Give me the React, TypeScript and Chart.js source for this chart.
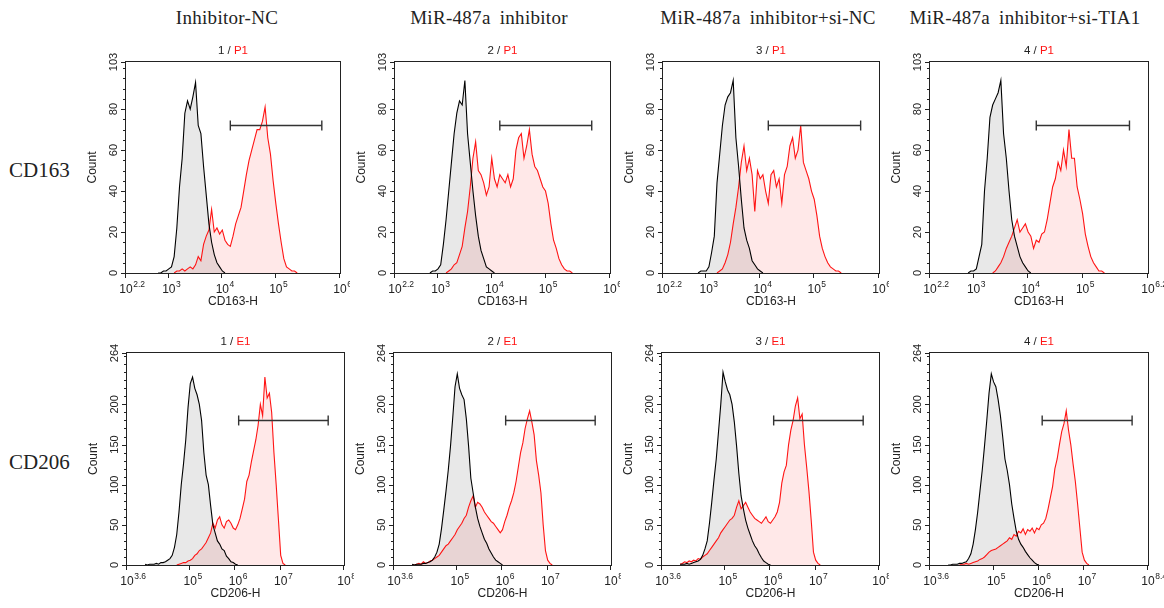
import React, { useEffect, useRef } from "react";
import { Chart, registerables } from "chart.js";

Chart.register(...registerables);

const _ = null;

// ---------- text ----------
const COLUMN_TITLES = ["Inhibitor-NC", "MiR-487a inhibitor", "MiR-487a inhibitor+si-NC", "MiR-487a inhibitor+si-TIA1"];
const ROW_TITLES = ["CD163", "CD206"];
const SAMPLE_IDS = ["1", "2", "3", "4"];
const GATE_NAMES = ["P1", "E1"];
const X_TITLES = ["CD163-H", "CD206-H"];

// ---------- bins (log10 of fluorescence) ----------
const CD163_BINS = [2.80, 2.85, 2.90, 2.95, 3.00, 3.05, 3.10, 3.15, 3.20, 3.25, 3.30, 3.35, 3.40, 3.45, 3.50, 3.55, 3.60, 3.65, 3.70, 3.75, 3.80, 3.85, 3.90, 3.95, 4.00, 4.05, 4.10, 4.15, 4.20, 4.25, 4.30, 4.35, 4.40, 4.45, 4.50, 4.55, 4.60, 4.65, 4.70, 4.75, 4.80, 4.85, 4.90, 4.95, 5.00, 5.05, 5.10, 5.15, 5.20, 5.25, 5.30, 5.35, 5.40, 5.45, 5.50];
const CD206_BINS = [4.00, 4.05, 4.10, 4.15, 4.20, 4.25, 4.30, 4.35, 4.40, 4.45, 4.50, 4.55, 4.60, 4.65, 4.70, 4.75, 4.80, 4.85, 4.90, 4.95, 5.00, 5.05, 5.10, 5.15, 5.20, 5.25, 5.30, 5.35, 5.40, 5.45, 5.50, 5.55, 5.60, 5.65, 5.70, 5.75, 5.80, 5.85, 5.90, 5.95, 6.00, 6.05, 6.10, 6.15, 6.20, 6.25, 6.30, 6.35, 6.40, 6.45, 6.50, 6.55, 6.60, 6.65, 6.70, 6.75, 6.80, 6.85, 6.90, 6.95, 7.00, 7.05, 7.10, 7.15];

// ---------- axes ----------
const CD163_X_TICKS = [2.2, 3, 4, 5, 6.2];
const CD206_X_TICKS = [3.6, 5, 6, 7, 8.4];
const CD163_Y_TICKS = [0, 20, 40, 60, 80, 103];
const CD206_Y_TICKS = [0, 50, 100, 150, 200, 264];
const CD163_Y_MINOR = 5;
const CD206_Y_MINOR = 10;

// ---------- gates ----------
const CD163_GATE = [4.15, 5.86];
const CD163_GATE_Y = 72;
const CD206_GATE = [6.07, 8.05];
const CD206_GATE_Y = 180;

// ---------- CD163 counts (black = control, red = stained) ----------
const CD163_CTRL_1 = [0, 0, 1, 1, 2, 3, 8, 22, 42, 56, 78, 84, 80, 86, 93, 72, 68, 52, 38, 24, 15, 9, 5, 3, 1, 0];
const CD163_STAIN_1 = [_, _, _, _, _, _, 0, 1, 1, 2, 1, 2, 3, 2, 4, 8, 6, 14, 18, 21, 31, 20, 22, 19, 21, 16, 14, 13, 18, 24, 28, 32, 40, 48, 55, 60, 65, 70, 70, 74, 81, 66, 58, 45, 34, 24, 15, 7, 3, 2, 1, 1, 0];
const CD163_CTRL_2 = [_, 0, 1, 1, 2, 4, 14, 26, 40, 54, 68, 78, 84, 82, 94, 68, 54, 40, 28, 18, 11, 7, 3, 2, 1, 0];
const CD163_STAIN_2 = [_, _, _, _, _, _, _, 0, 1, 2, 4, 5, 9, 13, 22, 30, 42, 56, 64, 50, 48, 44, 38, 42, 56, 46, 42, 48, 46, 44, 48, 42, 46, 60, 66, 68, 56, 62, 70, 58, 52, 50, 46, 42, 40, 34, 24, 16, 12, 7, 4, 2, 1, 1, 0];
const CD163_CTRL_3 = [_, 0, 1, 1, 1, 3, 10, 18, 44, 58, 72, 82, 86, 88, 94, 66, 52, 36, 22, 16, 12, 6, 4, 2, 1, 0];
const CD163_STAIN_3 = [_, _, _, _, _, _, _, _, 0, 1, 2, 5, 9, 15, 24, 32, 42, 54, 62, 50, 56, 48, 30, 50, 46, 48, 40, 34, 48, 50, 42, 46, 34, 48, 52, 62, 66, 56, 60, 72, 54, 50, 46, 40, 36, 28, 18, 12, 8, 5, 3, 2, 1, 1, 0];
const CD163_CTRL_4 = [_, _, 0, 1, 1, 2, 8, 14, 40, 56, 76, 82, 85, 88, 94, 68, 56, 40, 26, 18, 13, 8, 5, 3, 1, 0];
const CD163_STAIN_4 = [_, _, _, _, _, _, _, _, _, _, _, 0, 1, 3, 5, 8, 12, 15, 18, 22, 26, 20, 22, 24, 20, 18, 12, 16, 15, 19, 20, 26, 34, 42, 46, 54, 50, 60, 52, 70, 56, 56, 42, 36, 29, 19, 13, 8, 5, 3, 1, 1, 0];

// ---------- CD206 counts ----------
const CD206_CTRL_1 = [1, 0, 1, 1, 1, 2, 1, 3, 3, 4, 6, 8, 12, 22, 38, 66, 100, 126, 156, 196, 226, 234, 220, 212, 200, 180, 140, 112, 100, 74, 50, 40, 30, 26, 20, 18, 11, 8, 4, 3, 1, 0];
const CD206_STAIN_1 = [_, _, _, _, _, _, _, _, _, _, _, _, _, _, 0, 1, 2, 3, 3, 5, 6, 8, 12, 14, 18, 20, 24, 28, 34, 40, 52, 46, 56, 60, 50, 46, 54, 56, 52, 46, 44, 50, 58, 70, 82, 104, 112, 128, 142, 156, 174, 200, 186, 234, 208, 214, 190, 140, 100, 56, 12, 2, 0];
const CD206_CTRL_2 = [1, 0, 1, 1, 1, 2, 2, 3, 4, 6, 10, 16, 26, 45, 68, 92, 118, 148, 184, 222, 238, 220, 212, 206, 182, 148, 108, 90, 72, 58, 48, 40, 32, 27, 20, 15, 10, 6, 4, 2, 0];
const CD206_STAIN_2 = [0, 0, 1, 2, 1, 4, 2, 3, 5, 6, 8, 10, 12, 16, 20, 24, 26, 30, 34, 38, 44, 48, 52, 58, 62, 72, 80, 86, 72, 78, 76, 72, 66, 62, 58, 54, 52, 48, 44, 40, 44, 54, 62, 72, 80, 90, 104, 122, 140, 152, 170, 182, 192, 178, 162, 130, 112, 90, 50, 18, 6, 2, 0];
const CD206_CTRL_3 = [1, 1, 1, 2, 1, 2, 3, 4, 5, 7, 12, 20, 30, 52, 78, 106, 132, 166, 200, 240, 228, 218, 212, 200, 178, 148, 114, 86, 70, 56, 46, 38, 30, 24, 20, 14, 9, 5, 3, 1, 0];
const CD206_STAIN_3 = [1, 2, 4, 3, 5, 4, 6, 5, 8, 7, 10, 12, 14, 18, 22, 26, 30, 34, 40, 44, 48, 52, 56, 58, 62, 72, 80, 70, 74, 78, 72, 66, 62, 58, 56, 54, 52, 56, 60, 54, 52, 56, 60, 66, 78, 102, 116, 124, 150, 168, 180, 198, 208, 182, 188, 150, 122, 92, 56, 16, 6, 2, 0];
const CD206_CTRL_4 = [0, 0, 1, 1, 1, 2, 2, 3, 4, 8, 14, 26, 44, 66, 92, 118, 148, 180, 214, 238, 228, 222, 206, 186, 160, 132, 118, 100, 76, 58, 42, 32, 26, 22, 17, 13, 9, 6, 3, 1, 0];
const CD206_STAIN_4 = [_, _, _, _, _, 1, 1, 1, 2, 1, 2, 3, 4, 5, 7, 8, 10, 13, 16, 18, 19, 20, 22, 24, 26, 28, 30, 34, 32, 38, 36, 42, 40, 45, 38, 44, 42, 46, 40, 46, 44, 50, 52, 58, 70, 84, 98, 120, 132, 150, 166, 176, 192, 168, 150, 126, 104, 76, 46, 16, 6, 2, 0];

const CD163_CTRL = [CD163_CTRL_1, CD163_CTRL_2, CD163_CTRL_3, CD163_CTRL_4];
const CD163_STAIN = [CD163_STAIN_1, CD163_STAIN_2, CD163_STAIN_3, CD163_STAIN_4];
const CD206_CTRL = [CD206_CTRL_1, CD206_CTRL_2, CD206_CTRL_3, CD206_CTRL_4];
const CD206_STAIN = [CD206_STAIN_1, CD206_STAIN_2, CD206_STAIN_3, CD206_STAIN_4];

// ---------- layout ----------
const SANS = '"Liberation Sans", Arial, Helvetica, sans-serif';
const SERIF = '"Liberation Serif", "Times New Roman", serif';
const PAD_L = 44;
const PAD_T = 14;
const PAD_B = 44;
const INK = "#222";
const RED = "#ff1414";

const ROW_LAYOUT = [
  { top: 62, h: 211, lefts: [126, 395, 663, 930], widths: [214, 215, 216, 218], padR: [10, 10, 10, 16] },
  { top: 353, h: 212, lefts: [127, 394, 662, 930], widths: [217, 217, 217, 218], padR: [10, 10, 10, 16] },
];
const HEADER_CENTERS = [227, 489, 768, 1025];
const ROW_LABEL_CENTERS = [170, 462];

type Val = number | null;

type PanelProps = {
  left: number; top: number; w: number; h: number; padR: number;
  bins: number[]; ctrl: Val[]; stain: Val[];
  xTicks: number[]; yTicks: number[]; yMinor: number;
  gate: number[]; gateY: number;
  xTitle: string; sample: string; gateName: string;
};

function toPoints(bins: number[], vals: Val[]) {
  const pts: { x: number; y: number }[] = [];
  bins.forEach((e, i) => {
    const v = vals[i];
    if (v !== null && v !== undefined) pts.push({ x: Math.pow(10, e), y: v });
  });
  return pts;
}

function Panel(p: PanelProps) {
  const ref = useRef<HTMLCanvasElement | null>(null);
  const W = PAD_L + p.w + p.padR;
  const H = PAD_T + p.h + PAD_B;

  useEffect(() => {
    if (!ref.current) return;
    const yMax = p.yTicks[p.yTicks.length - 1];
    const axesPlugin = {
      id: "flowAxes",
      afterDraw(chart: any) {
        const { ctx, chartArea: a } = chart;
        const xs = chart.scales.x;
        const ys = chart.scales.y;
        ctx.save();
        ctx.strokeStyle = INK;
        ctx.lineWidth = 1;
        ctx.strokeRect(a.left - 0.5, a.top - 0.5, a.right - a.left + 1, a.bottom - a.top + 1);
        ctx.beginPath();
        for (let k = 1; k * p.yMinor < yMax; k++) {
          const v = k * p.yMinor;
          if (p.yTicks.includes(v)) continue;
          const y = Math.round(ys.getPixelForValue(v)) + 0.5;
          ctx.moveTo(a.left - 3, y);
          ctx.lineTo(a.left, y);
        }
        ys.ticks.forEach((t: any) => {
          const y = Math.round(ys.getPixelForValue(t.value)) + 0.5;
          ctx.moveTo(a.left - 5, y);
          ctx.lineTo(a.left, y);
        });
        xs.ticks.forEach((t: any) => {
          const x = Math.round(xs.getPixelForValue(t.value)) - 0.5;
          ctx.moveTo(x, a.bottom);
          ctx.lineTo(x, a.bottom + 5);
        });
        ctx.stroke();

        ctx.fillStyle = INK;
        xs.ticks.forEach((t: any, i: number) => {
          const x = xs.getPixelForValue(t.value);
          ctx.font = `12px ${SANS}`;
          ctx.textAlign = "center";
          ctx.textBaseline = "alphabetic";
          const w10 = ctx.measureText("10").width;
          ctx.fillText("10", x, a.bottom + 20);
          ctx.font = `8.5px ${SANS}`;
          ctx.textAlign = "left";
          ctx.fillText(String(p.xTicks[i]), x + w10 / 2 + 0.5, a.bottom + 14);
        });
        ys.ticks.forEach((t: any) => {
          const y = ys.getPixelForValue(t.value);
          ctx.save();
          ctx.translate(a.left - 9, y);
          ctx.rotate(-Math.PI / 2);
          ctx.font = `11px ${SANS}`;
          ctx.textAlign = "center";
          ctx.textBaseline = "alphabetic";
          ctx.fillText(String(t.value), 0, 0);
          ctx.restore();
        });
        ctx.restore();
      },
    };

    const chart = new Chart(ref.current, {
      type: "line",
      data: {
        datasets: [
          {
            label: "gate",
            data: p.gate.map((e) => ({ x: Math.pow(10, e), y: p.gateY })),
            borderColor: "#333",
            borderWidth: 1.4,
            pointStyle: "line",
            rotation: 90,
            pointRadius: 5,
            pointBorderWidth: 1.4,
            pointBorderColor: "#333",
            fill: false,
          },
          {
            label: "control",
            data: toPoints(p.bins, p.ctrl),
            borderColor: "#000",
            backgroundColor: "rgba(0,0,0,0.09)",
            borderWidth: 1.1,
            pointRadius: 0,
            tension: 0,
            fill: "origin",
          },
          {
            label: "stained",
            data: toPoints(p.bins, p.stain),
            borderColor: RED,
            backgroundColor: "rgba(255,0,0,0.09)",
            borderWidth: 1.1,
            pointRadius: 0,
            tension: 0,
            fill: "origin",
          },
        ],
      } as any,
      options: {
        responsive: false,
        animation: false,
        events: [],
        layout: { padding: { left: 0, top: PAD_T, right: p.padR, bottom: 0 } },
        plugins: {
          legend: { display: false },
          tooltip: { enabled: false },
          filler: { drawTime: "beforeDatasetsDraw" },
        },
        scales: {
          x: {
            type: "logarithmic",
            min: Math.pow(10, p.xTicks[0]),
            max: Math.pow(10, p.xTicks[p.xTicks.length - 1]),
            afterBuildTicks: (s: any) => {
              s.ticks = p.xTicks.map((e) => ({ value: Math.pow(10, e) }));
            },
            afterFit: (s: any) => {
              s.height = PAD_B;
            },
            ticks: { display: false },
            grid: { display: false },
            border: { display: false },
            title: {
              display: true,
              text: p.xTitle,
              color: INK,
              font: { family: SANS, size: 12 },
              padding: { top: 0, bottom: 8 },
            },
          },
          y: {
            type: "linear",
            min: 0,
            max: yMax,
            afterBuildTicks: (s: any) => {
              s.ticks = p.yTicks.map((v) => ({ value: v }));
            },
            afterFit: (s: any) => {
              s.width = PAD_L;
            },
            ticks: { display: false },
            grid: { display: false },
            border: { display: false },
            title: {
              display: true,
              text: "Count",
              color: INK,
              font: { family: SANS, size: 12 },
              padding: { top: 3, bottom: 0 },
            },
          },
        },
      } as any,
      plugins: [axesPlugin as any],
    });
    return () => chart.destroy();
  }, []);

  return (
    <>
      <canvas
        ref={ref}
        width={W}
        height={H}
        style={{ position: "absolute", left: p.left - PAD_L, top: p.top - PAD_T, width: W, height: H }}
      />
      <div
        style={{
          position: "absolute",
          left: p.left,
          top: p.top - 19,
          width: p.w,
          textAlign: "center",
          font: `11.5px ${SANS}`,
          lineHeight: "14px",
          color: INK,
          whiteSpace: "nowrap",
        }}
      >
        {p.sample} / <span style={{ color: RED }}>{p.gateName}</span>
      </div>
    </>
  );
}

export default function App() {
  const rows = [
    { bins: CD163_BINS, ctrl: CD163_CTRL, stain: CD163_STAIN, xTicks: CD163_X_TICKS, yTicks: CD163_Y_TICKS, yMinor: CD163_Y_MINOR, gate: CD163_GATE, gateY: CD163_GATE_Y },
    { bins: CD206_BINS, ctrl: CD206_CTRL, stain: CD206_STAIN, xTicks: CD206_X_TICKS, yTicks: CD206_Y_TICKS, yMinor: CD206_Y_MINOR, gate: CD206_GATE, gateY: CD206_GATE_Y },
  ];
  return (
    <div style={{ position: "absolute", left: 0, top: 0, width: 1164, height: 608, background: "#fff", overflow: "hidden" }}>
      {COLUMN_TITLES.map((t, i) => (
        <div
          key={"h" + i}
          style={{
            position: "absolute",
            left: HEADER_CENTERS[i] - 160,
            width: 320,
            top: 6,
            textAlign: "center",
            font: `19px ${SERIF}`,
            letterSpacing: "0.3px",
            wordSpacing: "4px",
            lineHeight: "24px",
            color: INK,
            whiteSpace: "nowrap",
          }}
        >
          {t}
        </div>
      ))}
      {ROW_TITLES.map((t, r) => (
        <div
          key={"r" + r}
          style={{
            position: "absolute",
            left: 9,
            top: ROW_LABEL_CENTERS[r] - 13,
            font: `21px ${SERIF}`,
            lineHeight: "26px",
            color: INK,
            whiteSpace: "nowrap",
          }}
        >
          {t}
        </div>
      ))}
      {rows.map((row, r) =>
        SAMPLE_IDS.map((id, c) => (
          <Panel
            key={r + "-" + c}
            left={ROW_LAYOUT[r].lefts[c]}
            top={ROW_LAYOUT[r].top}
            w={ROW_LAYOUT[r].widths[c]}
            h={ROW_LAYOUT[r].h}
            padR={ROW_LAYOUT[r].padR[c]}
            bins={row.bins}
            ctrl={row.ctrl[c]}
            stain={row.stain[c]}
            xTicks={row.xTicks}
            yTicks={row.yTicks}
            yMinor={row.yMinor}
            gate={row.gate}
            gateY={row.gateY}
            xTitle={X_TITLES[r]}
            sample={id}
            gateName={GATE_NAMES[r]}
          />
        ))
      )}
    </div>
  );
}
